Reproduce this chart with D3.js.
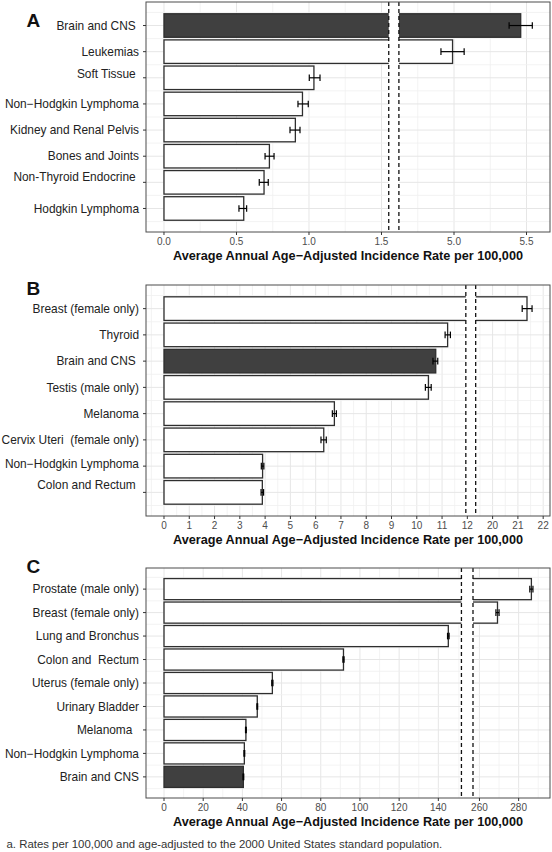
<!DOCTYPE html>
<html>
<head>
<meta charset="utf-8">
<script src="https://cdn.jsdelivr.net/npm/d3@7"></script>
<style>
  html, body { margin: 0; padding: 0; background: #fff; }
  svg { display: block; }
  text { font-family: "Liberation Sans", Arial, Helvetica, sans-serif; white-space: pre; }
</style>
</head>
<body>
<svg id="chart" width="552" height="852"></svg>
<script>
// ---------------- DATA ----------------
// Panel A
const categoriesA = ["Brain and CNS ", "Leukemias", "Soft Tissue ", "Non\u2212Hodgkin Lymphoma",
  "Kidney and Renal Pelvis", "Bones and Joints", "Non-Thyroid Endocrine ", "Hodgkin Lymphoma"];
const ratesA = [5.46, 4.99, 1.034, 0.955, 0.906, 0.727, 0.69, 0.55];
const lowerA = [5.38, 4.91, 1.002, 0.924, 0.869, 0.697, 0.657, 0.517];
const upperA = [5.54, 5.07, 1.076, 0.995, 0.938, 0.759, 0.719, 0.570];
const ticksA = [0, 0.5, 1.0, 1.5, 5.0, 5.5];
const tickLabelsA = ["0.0", "0.5", "1.0", "1.5", "5.0", "5.5"];

// Panel B
const categoriesB = ["Breast (female only)", "Thyroid", "Brain and CNS ", "Testis (male only)",
  "Melanoma", "Cervix Uteri  (female only)", "Non\u2212Hodgkin Lymphoma", "Colon and Rectum "];
const ratesB = [21.36, 11.22, 10.75, 10.46, 6.74, 6.32, 3.90, 3.89];
const lowerB = [21.17, 11.12, 10.64, 10.34, 6.66, 6.21, 3.85, 3.84];
const upperB = [21.56, 11.33, 10.83, 10.57, 6.82, 6.42, 3.95, 3.94];
const ticksB = [0, 1, 2, 3, 4, 5, 6, 7, 8, 9, 10, 11, 12, 20, 21, 22];
const tickLabelsB = ["0", "1", "2", "3", "4", "5", "6", "7", "8", "9", "10", "11", "12", "20", "21", "22"];

// Panel C
const categoriesC = ["Prostate (male only)", "Breast (female only)", "Lung and Bronchus", "Colon and  Rectum",
  "Uterus (female only)", "Urinary Bladder", "Melanoma  ", "Non\u2212Hodgkin Lymphoma", "Brain and CNS"];
const ratesC = [286.5, 269.2, 145.1, 91.6, 55.3, 47.6, 41.8, 41.0, 40.5];
const lowerC = [285.7, 268.4, 144.7, 91.3, 55.0, 47.4, 41.6, 40.8, 40.3];
const upperC = [287.3, 270.0, 145.5, 91.9, 55.6, 47.8, 42.0, 41.2, 40.7];
const ticksC = [0, 20, 40, 60, 80, 100, 120, 140, 260, 280];
const tickLabelsC = ["0", "20", "40", "60", "80", "100", "120", "140", "260", "280"];

// Axis breaks (data units): lower segment end, upper segment start, shift removed from upper values
const breakA = [1.55, 4.62, 3];
const breakB = [11.94, 19.33, 7];
const breakC = [151.8, 256.7, 99];
// Visible (transformed) x limits
const limitsA = [-0.124, 2.662];
const limitsB = [-0.712, 15.27];
const limitsC = [-9.19, 197.0];

const axisTitle = "Average Annual Age\u2212Adjusted Incidence Rate per 100,000";
const footnote = "a. Rates per 100,000 and age-adjusted to the 2000 United States standard population.";

// ---------------- DRAW ----------------
const svg = d3.select("#chart");
const LEFT = 146, RIGHT = 550;

function panel(p) {
  const [bLo, bHi, shift] = p.brk;
  const tf = v => (v >= bHi ? v - shift : v);
  const xt = d3.scaleLinear().domain(p.limits).range([LEFT, RIGHT]);
  const x = v => xt(tf(v));
  const y = d3.scaleBand().domain(p.cats).range([p.top, p.bottom])
    .paddingInner(0.1).paddingOuter(0.45);
  const g = svg.append("g");

  g.append("rect").attr("x", LEFT).attr("y", p.top).attr("width", RIGHT - LEFT)
    .attr("height", p.bottom - p.top).attr("fill", "#fff");

  // vertical grid (transformed space)
  const tt = p.ticks.map(tf);
  const minors = [];
  for (let i = 0; i < tt.length - 1; i++) minors.push((tt[i] + tt[i + 1]) / 2);
  minors.push(tt[0] - (tt[1] - tt[0]) / 2);
  minors.push(tt[tt.length - 1] + (tt[tt.length - 1] - tt[tt.length - 2]) / 2);
  const inLim = t => t > p.limits[0] && t < p.limits[1];
  g.selectAll(".vminor").data(minors.filter(inLim)).join("line")
    .attr("x1", d => xt(d)).attr("x2", d => xt(d)).attr("y1", p.top).attr("y2", p.bottom)
    .attr("stroke", "#f0f0f0").attr("stroke-width", 0.8);
  g.selectAll(".vmajor").data(tt).join("line")
    .attr("x1", d => xt(d)).attr("x2", d => xt(d)).attr("y1", p.top).attr("y2", p.bottom)
    .attr("stroke", "#e6e6e6").attr("stroke-width", 1);

  // horizontal grid
  const step = y.step();
  const centers = p.cats.map(c => y(c) + y.bandwidth() / 2);
  const hmin = [];
  centers.forEach(c => { hmin.push(c - step / 2); });
  hmin.push(centers[centers.length - 1] + step / 2);
  g.selectAll(".hminor").data(hmin.filter(v => v > p.top && v < p.bottom)).join("line")
    .attr("x1", LEFT).attr("x2", RIGHT).attr("y1", d => d).attr("y2", d => d)
    .attr("stroke", "#f0f0f0").attr("stroke-width", 0.8);
  g.selectAll(".hmajor").data(centers).join("line")
    .attr("x1", LEFT).attr("x2", RIGHT).attr("y1", d => d).attr("y2", d => d)
    .attr("stroke", "#e6e6e6").attr("stroke-width", 1);

  // bars
  g.selectAll(".bar").data(p.cats).join("rect")
    .attr("x", x(0)).attr("y", c => y(c))
    .attr("width", (c, i) => x(p.vals[i]) - x(0)).attr("height", y.bandwidth())
    .attr("fill", c => c.trim() === "Brain and CNS" ? "#404040" : "#fff")
    .attr("stroke", "#2e2e2e").attr("stroke-width", 1.3);

  // break gap
  const d1 = xt(bLo), d2 = xt(bHi - shift);
  g.append("rect").attr("x", d1).attr("y", p.top + 0.5).attr("width", d2 - d1)
    .attr("height", p.bottom - p.top - 1).attr("fill", "#fff");
  [d1, d2].forEach(xx => {
    g.append("line").attr("x1", xx).attr("x2", xx).attr("y1", p.top).attr("y2", p.bottom)
      .attr("stroke", "#111").attr("stroke-width", 1.3).attr("stroke-dasharray", "4,3");
  });

  // error bars
  const cap = 3.3;
  p.cats.forEach((c, i) => {
    const cy = y(c) + y.bandwidth() / 2;
    const x1 = x(p.lo[i]), x2 = x(p.hi[i]);
    g.append("line").attr("x1", x1).attr("x2", x2).attr("y1", cy).attr("y2", cy)
      .attr("stroke", "#000").attr("stroke-width", 1.2);
    [x1, x2].forEach(xx => g.append("line").attr("x1", xx).attr("x2", xx)
      .attr("y1", cy - cap).attr("y2", cy + cap).attr("stroke", "#000").attr("stroke-width", 1.2));
  });

  // border
  g.append("rect").attr("x", LEFT).attr("y", p.top).attr("width", RIGHT - LEFT)
    .attr("height", p.bottom - p.top).attr("fill", "none")
    .attr("stroke", "#4d4d4d").attr("stroke-width", 1);

  // y axis ticks + labels
  p.cats.forEach((c, i) => {
    const cy = y(c) + y.bandwidth() / 2;
    g.append("line").attr("x1", LEFT - 3).attr("x2", LEFT).attr("y1", cy).attr("y2", cy)
      .attr("stroke", "#333").attr("stroke-width", 1);
    g.append("text").attr("x", 139).attr("y", cy + (p.nudge[c] || 0))
      .attr("dy", "0.35em").attr("text-anchor", "end")
      .attr("font-size", "11.9px").attr("fill", "#222").text(c);
  });

  // x axis ticks + labels
  p.ticks.forEach((t, i) => {
    const xx = x(t);
    g.append("line").attr("x1", xx).attr("x2", xx).attr("y1", p.bottom).attr("y2", p.bottom + 3)
      .attr("stroke", "#333").attr("stroke-width", 1);
    g.append("text").attr("x", xx).attr("y", p.bottom + 13)
      .attr("text-anchor", "middle").attr("font-size", "10px").attr("fill", "#4d4d4d")
      .text(p.tickLabels[i]);
  });

  g.append("text").attr("x", (LEFT + RIGHT) / 2).attr("y", p.bottom + 27.5)
    .attr("text-anchor", "middle").attr("font-size", "12.7px").attr("font-weight", "bold")
    .attr("fill", "#111").text(axisTitle);

  g.append("text").attr("x", 26.5).attr("y", p.letterY)
    .attr("font-size", "19px").attr("font-weight", "bold").attr("fill", "#111").text(p.letter);
}

panel({ letter: "A", letterY: 26.5, cats: categoriesA, vals: ratesA, lo: lowerA, hi: upperA,
  ticks: ticksA, tickLabels: tickLabelsA, brk: breakA, limits: limitsA, top: 2, bottom: 232,
  nudge: { "Soft Tissue ": -4, "Non-Thyroid Endocrine ": -6 } });
panel({ letter: "B", letterY: 295, cats: categoriesB, vals: ratesB, lo: lowerB, hi: upperB,
  ticks: ticksB, tickLabels: tickLabelsB, brk: breakB, limits: limitsB, top: 285, bottom: 516,
  nudge: { "Colon and Rectum ": -7.5, "Non\u2212Hodgkin Lymphoma": -2 } });
panel({ letter: "C", letterY: 572.5, cats: categoriesC, vals: ratesC, lo: lowerC, hi: upperC,
  ticks: ticksC, tickLabels: tickLabelsC, brk: breakC, limits: limitsC, top: 568, bottom: 798,
  nudge: {} });

svg.append("text").attr("x", 6.5).attr("y", 847.5).attr("font-size", "11.4px")
  .attr("fill", "#333").text(footnote);
</script>
</body>
</html>
